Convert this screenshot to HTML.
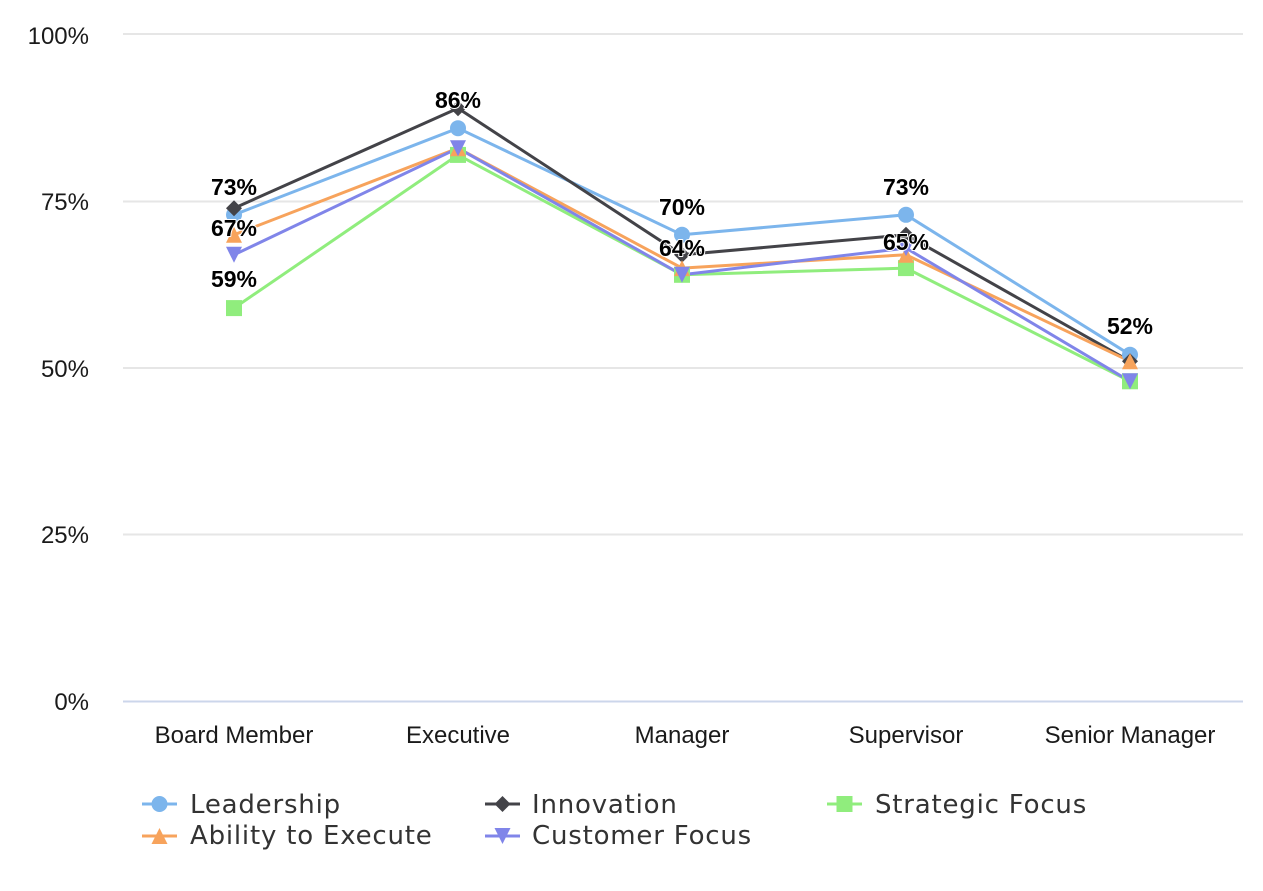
<!DOCTYPE html>
<html>
<head>
<meta charset="utf-8">
<style>
  html,body{margin:0;padding:0;background:#fff;}
  svg{display:block;}
  .ax{font-family:"Liberation Sans",Arial,sans-serif;font-size:24px;fill:#1a1a1a;}
  .dl{font-family:"Liberation Sans",Arial,sans-serif;font-size:23px;font-weight:bold;fill:#000;stroke:#fff;stroke-width:2px;paint-order:stroke;stroke-linejoin:round;}
  .lg{font-family:"DejaVu Sans",Verdana,sans-serif;font-size:26px;letter-spacing:0.8px;fill:#333;}
</style>
</head>
<body>
<svg width="1263" height="891" viewBox="0 0 1263 891" xmlns="http://www.w3.org/2000/svg">
  <rect width="1263" height="891" fill="#fff"/>
  <!-- gridlines -->
  <g stroke="#e6e6e6" stroke-width="2">
    <line x1="123" y1="34" x2="1243" y2="34"/>
    <line x1="123" y1="201.5" x2="1243" y2="201.5"/>
    <line x1="123" y1="368" x2="1243" y2="368"/>
    <line x1="123" y1="534.5" x2="1243" y2="534.5"/>
  </g>
  <line x1="123" y1="701.5" x2="1243" y2="701.5" stroke="#ccd6eb" stroke-width="2"/>

  <!-- y labels -->
  <g class="ax" text-anchor="end">
    <text x="89" y="44">100%</text>
    <text x="89" y="210">75%</text>
    <text x="89" y="377">50%</text>
    <text x="89" y="543">25%</text>
    <text x="89" y="710">0%</text>
  </g>
  <!-- x labels -->
  <g class="ax" text-anchor="middle">
    <text x="234" y="743">Board Member</text>
    <text x="458" y="743">Executive</text>
    <text x="682" y="743">Manager</text>
    <text x="906" y="743">Supervisor</text>
    <text x="1130" y="743">Senior Manager</text>
  </g>

  <!-- series lines -->
  <g fill="none" stroke-width="3" stroke-linejoin="round" stroke-linecap="round">
    <polyline stroke="#7cb5ec" points="234,214.8 458,128.2 682,234.8 906,214.8 1130,354.7"/>
    <polyline stroke="#434348" points="234,208.2 458,108.3 682,254.8 906,234.8 1130,361.3"/>
    <polyline stroke="#90ed7d" points="234,308.1 458,154.9 682,274.8 906,268.1 1130,381.3"/>
    <polyline stroke="#f7a35c" points="234,234.8 458,148.2 682,268.1 906,254.8 1130,361.3"/>
    <polyline stroke="#8085e9" points="234,254.8 458,148.2 682,274.8 906,248.1 1130,381.3"/>
  </g>

  <!-- markers: Leadership circles -->
  <g fill="#7cb5ec">
    <circle cx="234" cy="214.8" r="8"/>
    <circle cx="458" cy="128.2" r="8"/>
    <circle cx="682" cy="234.8" r="8"/>
    <circle cx="906" cy="214.8" r="8"/>
    <circle cx="1130" cy="354.7" r="8"/>
  </g>
  <!-- Innovation diamonds -->
  <g fill="#434348">
    <polygon points="234,200.2 242,208.2 234,216.2 226,208.2"/>
    <polygon points="458,100.3 466,108.3 458,116.3 450,108.3"/>
    <polygon points="682,246.8 690,254.8 682,262.8 674,254.8"/>
    <polygon points="906,226.8 914,234.8 906,242.8 898,234.8"/>
    <polygon points="1130,353.3 1138,361.3 1130,369.3 1122,361.3"/>
  </g>
  <!-- Strategic squares -->
  <g fill="#90ed7d">
    <rect x="226" y="300.1" width="16" height="16"/>
    <rect x="450" y="146.9" width="16" height="16"/>
    <rect x="674" y="266.8" width="16" height="16"/>
    <rect x="898" y="260.1" width="16" height="16"/>
    <rect x="1122" y="373.3" width="16" height="16"/>
  </g>
  <!-- Ability triangles -->
  <g fill="#f7a35c">
    <polygon points="234,226.8 242,242.8 226,242.8"/>
    <polygon points="458,140.2 466,156.2 450,156.2"/>
    <polygon points="682,260.1 690,276.1 674,276.1"/>
    <polygon points="906,246.8 914,262.8 898,262.8"/>
    <polygon points="1130,353.3 1138,369.3 1122,369.3"/>
  </g>
  <!-- Customer triangle-down -->
  <g fill="#8085e9">
    <polygon points="226,246.8 242,246.8 234,262.8"/>
    <polygon points="450,140.2 466,140.2 458,156.2"/>
    <polygon points="674,266.8 690,266.8 682,282.8"/>
    <polygon points="898,240.1 914,240.1 906,256.1"/>
    <polygon points="1122,373.3 1138,373.3 1130,389.3"/>
  </g>

  <!-- data labels -->
  <g class="dl" text-anchor="middle">
    <text x="234" y="195">73%</text>
    <text x="234" y="236">67%</text>
    <text x="234" y="287">59%</text>
    <text x="458" y="108">86%</text>
    <text x="682" y="215">70%</text>
    <text x="682" y="256">64%</text>
    <text x="906" y="195">73%</text>
    <text x="906" y="250">65%</text>
    <text x="1130" y="334">52%</text>
  </g>

  <!-- legend -->
  <g stroke-width="3">
    <line x1="142" y1="804" x2="177" y2="804" stroke="#7cb5ec"/>
    <line x1="485" y1="804" x2="520" y2="804" stroke="#434348"/>
    <line x1="827" y1="804" x2="862" y2="804" stroke="#90ed7d"/>
    <line x1="142" y1="836" x2="177" y2="836" stroke="#f7a35c"/>
    <line x1="485" y1="836" x2="520" y2="836" stroke="#8085e9"/>
  </g>
  <circle cx="159.5" cy="804" r="8" fill="#7cb5ec"/>
  <polygon points="502.5,796 510.5,804 502.5,812 494.5,804" fill="#434348"/>
  <rect x="836.5" y="796" width="16" height="16" fill="#90ed7d"/>
  <polygon points="159.5,828 167.5,844 151.5,844" fill="#f7a35c"/>
  <polygon points="494.5,828 510.5,828 502.5,844" fill="#8085e9"/>

  <g class="lg">
    <text x="190" y="813">Leadership</text>
    <text x="532" y="813">Innovation</text>
    <text x="875" y="813">Strategic Focus</text>
    <text x="190" y="844">Ability to Execute</text>
    <text x="532" y="844">Customer Focus</text>
  </g>
</svg>
</body>
</html>
